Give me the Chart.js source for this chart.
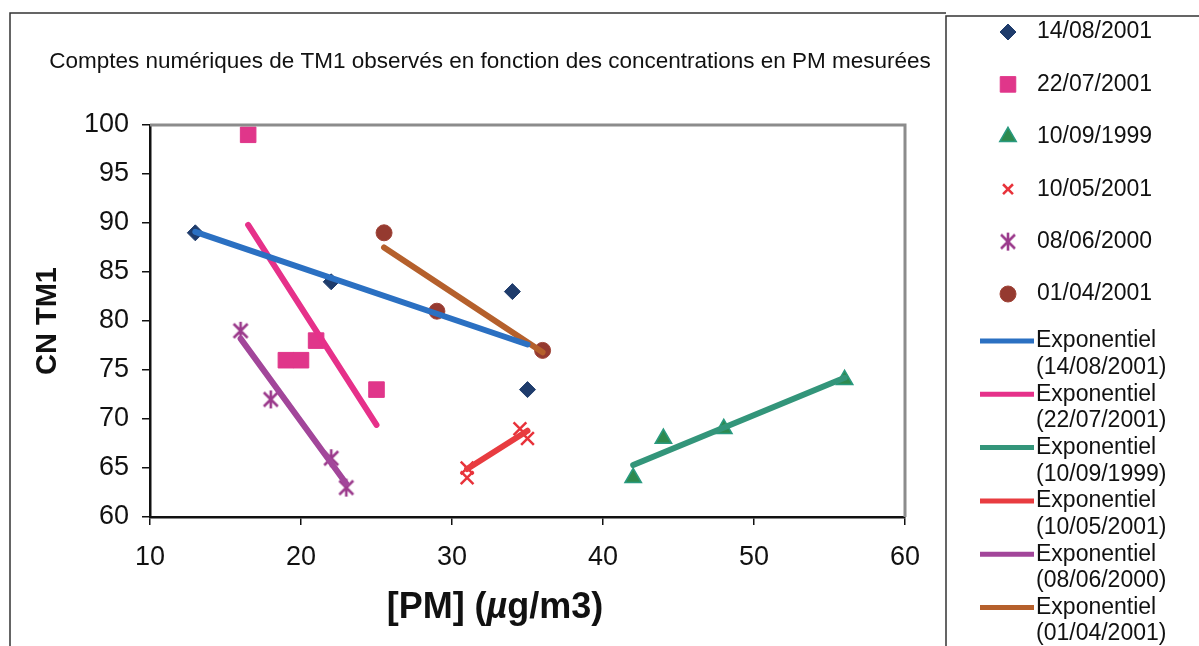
<!DOCTYPE html>
<html lang="fr">
<head>
<meta charset="utf-8">
<title>Comptes numériques de TM1</title>
<script src="https://cdn.jsdelivr.net/npm/chart.js@4.4.1/dist/chart.umd.min.js"></script>
<style>
  html, body { margin: 0; padding: 0; background: #fff; }
  #wrap { width: 1199px; height: 646px; position: relative; }
</style>
</head>
<body>
<div id="wrap"><canvas id="chart" width="1199" height="646"></canvas></div>
<script>
// values
const titleText = 'Comptes numériques de TM1 observés en fonction des concentrations en PM mesurées';
const dates = ['14/08/2001', '22/07/2001', '10/09/1999', '10/05/2001', '08/06/2000', '01/04/2001'];

const pm_140801 = [13, 22, 34, 35];
const cn_140801 = [89, 84, 83, 73];
const pm_220701 = [16.5, 19, 20, 21, 25];
const cn_220701 = [99, 76, 76, 78, 73];
const pm_100999 = [42, 44, 48, 56];
const cn_100999 = [64, 68, 69, 74];
const pm_100501 = [31, 31, 34.5, 35];
const cn_100501 = [64, 65, 69, 68];
const pm_080600 = [16, 18, 22, 23];
const cn_080600 = [79, 72, 66, 63];
const pm_010401 = [25.5, 29, 36];
const cn_010401 = [89, 81, 77];

// exponential trend lines (ends)
const trendPm_140801 = [13, 35];
const trendCn_140801 = [89.1, 77.6];
const trendPm_220701 = [16.5, 25];
const trendCn_220701 = [89.8, 69.4];
const trendPm_100999 = [42, 56];
const trendCn_100999 = [65.3, 74.2];
const trendPm_100501 = [31, 35];
const trendCn_100501 = [64.9, 68.8];
const trendPm_080600 = [16, 23];
const trendCn_080600 = [78.2, 63.4];
const trendPm_010401 = [25.5, 36];
const trendCn_010401 = [87.5, 76.8];

const xTicks = [10, 20, 30, 40, 50, 60];
const yTicks = [60, 65, 70, 75, 80, 85, 90, 95, 100];

const pts = (xs, ys) => xs.map((x, i) => ({ x, y: ys[i] }));

// Excel style asterisk: an X with a vertical bar
const asterisk = (() => {
  const c = document.createElement('canvas');
  c.width = 20; c.height = 20;
  const g = c.getContext('2d');
  g.strokeStyle = '#9b3a8c';
  g.lineWidth = 2.6;
  g.beginPath();
  g.moveTo(3, 3); g.lineTo(17, 17);
  g.moveTo(17, 3); g.lineTo(3, 17);
  g.moveTo(10, 1); g.lineTo(10, 19);
  g.stroke();
  return c;
})();

const markers = [
  { xs: pm_140801, ys: cn_140801, style: 'rectRot', radius: 8, color: '#1f3c6c', border: '#1f3c6c', bw: 1 },
  { xs: pm_220701, ys: cn_220701, style: 'rect', radius: 11, color: '#e0368a', border: '#e0368a', bw: 1 },
  { xs: pm_100999, ys: cn_100999, style: 'triangle', radius: 9.5, color: '#2e8a4e', border: '#2a9a80', bw: 1.5 },
  { xs: pm_100501, ys: cn_100501, style: 'crossRot', radius: 9, color: '#e8323a', border: '#e8323a', bw: 2.5 },
  { xs: pm_080600, ys: cn_080600, style: asterisk, radius: 9, color: '#9b3a8c', border: '#9b3a8c', bw: 2.5 },
  { xs: pm_010401, ys: cn_010401, style: 'circle', radius: 8, color: '#953a30', border: '#a04438', bw: 1 }
];

const trends = [
  { xs: trendPm_140801, ys: trendCn_140801, color: '#2b70c2' },
  { xs: trendPm_220701, ys: trendCn_220701, color: '#e6318a' },
  { xs: trendPm_100999, ys: trendCn_100999, color: '#33957a' },
  { xs: trendPm_100501, ys: trendCn_100501, color: '#e83c40' },
  { xs: trendPm_080600, ys: trendCn_080600, color: '#a2469a' },
  { xs: trendPm_010401, ys: trendCn_010401, color: '#b5602c' }
];

const datasets = [];
markers.forEach((m, i) => datasets.push({
  type: 'scatter',
  label: dates[i],
  data: pts(m.xs, m.ys),
  pointStyle: m.style,
  pointRadius: m.radius,
  backgroundColor: m.color,
  borderColor: m.border,
  borderWidth: m.bw,
  showLine: false,
  clip: false,
  order: 2
}));
trends.forEach((t, i) => datasets.push({
  type: 'line',
  label: 'Exponentiel (' + dates[i] + ')',
  data: pts(t.xs, t.ys),
  borderColor: t.color,
  borderWidth: 6,
  borderCapStyle: 'round',
  pointRadius: 0,
  fill: false,
  clip: false,
  order: 1
}));

// frame, title, plot border, x title and legend like the Excel sheet
const decor = {
  id: 'decor',
  afterDraw(chart) {
    const { ctx, chartArea: a } = chart;
    ctx.save();

    // gray border on top and right of plot area
    ctx.strokeStyle = '#8c8c8c';
    ctx.lineWidth = 3;
    ctx.beginPath();
    ctx.moveTo(a.left, a.top);
    ctx.lineTo(a.right, a.top);
    ctx.lineTo(a.right, a.bottom);
    ctx.stroke();

    // outer frame and legend box
    ctx.strokeStyle = '#333';
    ctx.lineWidth = 1.5;
    ctx.beginPath();
    ctx.moveTo(10, 646); ctx.lineTo(10, 13); ctx.lineTo(946, 13);
    ctx.moveTo(946, 646); ctx.lineTo(946, 16); ctx.lineTo(1199, 16);
    ctx.stroke();

    // chart title
    ctx.fillStyle = '#111';
    ctx.font = '22.5px "Liberation Sans", Arial, sans-serif';
    ctx.textAlign = 'center';
    ctx.textBaseline = 'middle';
    ctx.fillText(titleText, 490, 62);

    // x axis title with italic mu
    const parts = [['[PM] (', 'bold'], ['\u00b5', 'italic bold'], ['g/m3)', 'bold']];
    const fnt = s => s + ' 36px "Liberation Sans", Arial, sans-serif';
    let total = 0;
    parts.forEach(p => { ctx.font = fnt(p[1]); total += ctx.measureText(p[0]).width; });
    let x = 495 - total / 2;
    ctx.textAlign = 'left';
    parts.forEach(p => {
      ctx.font = fnt(p[1]);
      ctx.fillText(p[0], x, 608);
      x += ctx.measureText(p[0]).width;
    });

    // legend: markers
    ctx.font = '23px "Liberation Sans", Arial, sans-serif';
    markers.forEach((m, i) => {
      const y = 32 + i * 52.4;
      ctx.fillStyle = m.color;
      ctx.strokeStyle = m.border;
      ctx.lineWidth = m.bw;
      const r = m.style === 'crossRot' ? 7 : m.radius;
      Chart.helpers.drawPoint(ctx, { pointStyle: m.style, radius: r, borderWidth: m.bw, rotation: 0 }, 1008, y);
      ctx.fillStyle = '#111';
      ctx.fillText(dates[i], 1037, y);
    });

    // legend: trend lines
    trends.forEach((t, i) => {
      const y = 341 + i * 2 * 26.65;
      ctx.strokeStyle = t.color;
      ctx.lineWidth = 5;
      ctx.beginPath();
      ctx.moveTo(980, y); ctx.lineTo(1034, y);
      ctx.stroke();
      ctx.fillStyle = '#111';
      ctx.fillText('Exponentiel', 1036, y);
      ctx.fillText('(' + dates[i] + ')', 1036, y + 26.65);
    });

    ctx.restore();
  }
};

new Chart(document.getElementById('chart'), {
  data: { datasets },
  options: {
    responsive: false,
    animation: false,
    devicePixelRatio: 1,
    layout: { padding: { left: 0, top: 125, right: 294, bottom: 0 } },
    plugins: { legend: { display: false }, tooltip: { enabled: false }, title: { display: false } },
    scales: {
      x: {
        type: 'linear', min: 10, max: 60,
        afterFit: s => { s.height = 129; },
        afterBuildTicks: s => { s.ticks = xTicks.map(v => ({ value: v })); },
        ticks: { color: '#111', padding: 16, font: { size: 27, family: '"Liberation Sans", Arial, sans-serif' } },
        grid: { drawOnChartArea: false, drawTicks: true, tickLength: 8, color: '#111', lineWidth: 1.5 },
        border: { display: true, color: '#111', width: 2.5 }
      },
      y: {
        type: 'linear', min: 60, max: 100,
        afterFit: s => { s.width = 150; },
        afterBuildTicks: s => { s.ticks = yTicks.map(v => ({ value: v })); },
        ticks: { color: '#111', padding: 13, font: { size: 27, family: '"Liberation Sans", Arial, sans-serif' } },
        grid: { drawOnChartArea: false, drawTicks: true, tickLength: 8, color: '#111', lineWidth: 1.5 },
        border: { display: true, color: '#111', width: 2.5 },
        title: {
          display: true, text: 'CN TM1', color: '#111',
          font: { size: 29, weight: 'bold', family: '"Liberation Sans", Arial, sans-serif' },
          padding: { top: 31, bottom: 0 }
        }
      }
    }
  },
  plugins: [decor]
});
</script>
</body>
</html>
